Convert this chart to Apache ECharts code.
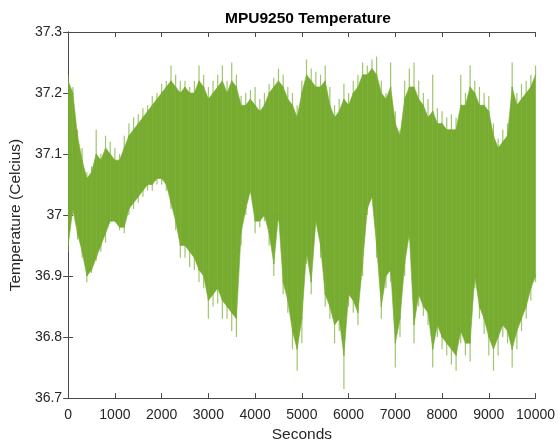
<!DOCTYPE html>
<html lang="en">
<head>
    <meta charset="UTF-8">
    <title>MPU9250 Temperature</title>
    <script src="https://cdn.jsdelivr.net/npm/echarts/dist/echarts.min.js"></script>
    <style>
        html, body { margin: 0; padding: 0; background: #fff; }
        #main { width: 558px; height: 448px; }
    </style>
</head>
<body>
<div id="main"></div>
<script>
    // time axis (seconds), read every 100 s off the picture
    var timeSec = [];
    for (var k = 0; k <= 100; k++) timeSec.push(k * 100);

    // highest spikes of the noisy trace (Celcius)
    var tempHigh = [
        37.23, 37.21, 37.14, 37.11, 37.07, 37.08, 37.14, 37.10, 37.13, 37.12,
        37.11, 37.10, 37.13, 37.15, 37.16, 37.165, 37.175, 37.18, 37.195, 37.20,
        37.215, 37.22, 37.245, 37.23, 37.22, 37.22, 37.21, 37.22, 37.245, 37.23,
        37.21, 37.22, 37.23, 37.245, 37.22, 37.25, 37.23, 37.195, 37.20, 37.205,
        37.21, 37.19, 37.20, 37.215, 37.225, 37.24, 37.23, 37.21, 37.20, 37.18,
        37.22, 37.255, 37.24, 37.235, 37.23, 37.245, 37.21, 37.18, 37.19, 37.215,
        37.20, 37.22, 37.23, 37.25, 37.245, 37.255, 37.26, 37.22, 37.20, 37.25,
        37.17, 37.14, 37.22, 37.24, 37.25, 37.22, 37.20, 37.19, 37.23, 37.175,
        37.17, 37.16, 37.165, 37.16, 37.23, 37.20, 37.245, 37.22, 37.21, 37.20,
        37.195, 37.15, 37.125, 37.14, 37.15, 37.25, 37.20, 37.215, 37.22, 37.23,
        37.245
    ];

    // top of the dense part of the trace
    var coreHigh = [
        37.22, 37.20, 37.13, 37.09, 37.06, 37.07, 37.10, 37.09, 37.11, 37.10,
        37.09, 37.09, 37.11, 37.13, 37.14, 37.15, 37.16, 37.17, 37.18, 37.19,
        37.20, 37.21, 37.22, 37.21, 37.20, 37.21, 37.20, 37.20, 37.22, 37.21,
        37.19, 37.20, 37.21, 37.22, 37.20, 37.22, 37.21, 37.18, 37.18, 37.19,
        37.18, 37.17, 37.18, 37.20, 37.21, 37.22, 37.21, 37.19, 37.18, 37.16,
        37.20, 37.23, 37.22, 37.21, 37.21, 37.22, 37.18, 37.16, 37.17, 37.19,
        37.18, 37.20, 37.21, 37.23, 37.23, 37.24, 37.23, 37.20, 37.19, 37.21,
        37.15, 37.13, 37.19, 37.21, 37.21, 37.19, 37.18, 37.16, 37.17, 37.15,
        37.15, 37.14, 37.14, 37.14, 37.18, 37.18, 37.21, 37.20, 37.18, 37.18,
        37.17, 37.13, 37.11, 37.12, 37.13, 37.21, 37.18, 37.19, 37.20, 37.21,
        37.23
    ];

    // bottom of the dense part of the trace
    var coreLow = [
        36.95, 37.01, 36.97, 36.94, 36.90, 36.91, 36.93, 36.95, 36.97, 36.99,
        36.99, 36.98, 36.98, 37.01, 37.02, 37.03, 37.04, 37.05, 37.05, 37.06,
        37.06, 37.05, 37.02, 36.99, 36.95, 36.95, 36.94, 36.93, 36.91, 36.90,
        36.86, 36.87, 36.88, 36.86, 36.85, 36.84, 36.83, 36.97, 37.01, 37.04,
        36.99, 36.99, 37.00, 36.97, 36.92, 37.00, 36.89, 36.86, 36.81, 36.78,
        36.83, 36.94, 36.89, 36.99, 36.95, 36.87, 36.85, 36.82, 36.83, 36.77,
        36.87, 36.86, 36.84, 36.92, 37.01, 37.03, 36.95, 36.85, 36.90, 36.91,
        36.79, 36.83, 36.92, 36.97, 36.82, 36.87, 36.85, 36.84, 36.78, 36.82,
        36.80, 36.79, 36.78, 36.77, 36.81, 36.79, 36.79, 36.90, 36.85, 36.83,
        36.80, 36.78, 36.80, 36.82, 36.81, 36.78, 36.81, 36.83, 36.85, 36.88,
        36.90
    ];

    // lowest spikes of the noisy trace (Celcius)
    var tempLow = [
        36.94, 37.00, 36.96, 36.93, 36.89, 36.905, 36.925, 36.94, 36.955, 36.99,
        36.99, 36.975, 36.97, 37.00, 37.01, 37.02, 37.03, 37.04, 37.04, 37.05,
        37.05, 37.04, 37.01, 36.975, 36.93, 36.93, 36.915, 36.91, 36.89, 36.88,
        36.83, 36.85, 36.855, 36.83, 36.83, 36.81, 36.80, 36.95, 37.00, 37.04,
        36.97, 36.98, 36.99, 36.95, 36.90, 36.99, 36.87, 36.84, 36.78, 36.745,
        36.79, 36.92, 36.87, 37.02, 36.93, 36.85, 36.83, 36.79, 36.81, 36.715,
        36.85, 36.84, 36.82, 36.90, 37.00, 37.03, 36.93, 36.83, 36.88, 36.89,
        36.75, 36.80, 36.90, 36.96, 36.79, 36.85, 36.835, 36.82, 36.75, 36.80,
        36.78, 36.77, 36.755, 36.745, 36.79, 36.77, 36.76, 36.88, 36.83, 36.805,
        36.77, 36.745, 36.77, 36.80, 36.79, 36.75, 36.78, 36.81, 36.83, 36.86,
        36.89
    ];

    var lineGreen = '#77AC30';
    var axisColor = '#4a4a4a';
    var textColor = '#262626';
    var fontFam = 'Liberation Sans, Arial, Helvetica, sans-serif';

    var traceData = [];
    for (var i = 0; i < timeSec.length; i++) {
        traceData.push([timeSec[i], tempLow[i], coreLow[i], coreHigh[i], tempHigh[i]]);
    }

    // each item: dense strip to the next point + its own spikes above and below
    function renderTrace(params, api) {
        var idx = params.dataIndexInside;
        var t0 = api.value(0);
        var lo = api.coord([t0, api.value(1)]);
        var cLo = api.coord([t0, api.value(2)]);
        var cHi = api.coord([t0, api.value(3)]);
        var hi = api.coord([t0, api.value(4)]);
        var kids = [];
        if (idx < params.dataInsideLength - 1) {
            var t1 = api.value(0, idx + 1);
            var nLo = api.coord([t1, api.value(2, idx + 1)]);
            var nHi = api.coord([t1, api.value(3, idx + 1)]);
            kids.push({
                type: 'polygon',
                shape: { points: [cLo, cHi, nHi, nLo] },
                style: { fill: lineGreen, stroke: lineGreen, lineWidth: 0.6 }
            });
        }
        kids.push({
            type: 'line',
            shape: { x1: hi[0], y1: hi[1], x2: cHi[0], y2: cHi[1] + 2 },
            style: { stroke: lineGreen, lineWidth: 1.2, opacity: 0.7 }
        });
        kids.push({
            type: 'line',
            shape: { x1: lo[0], y1: lo[1], x2: cLo[0], y2: cLo[1] - 2 },
            style: { stroke: lineGreen, lineWidth: 1.2, opacity: 0.7 }
        });
        return { type: 'group', children: kids };
    }

    var xCommon = {
        type: 'value', min: 0, max: 10000, interval: 1000,
        axisLine: { show: true, lineStyle: { color: axisColor, width: 1 } },
        axisTick: { show: true, inside: true, length: 5, lineStyle: { color: axisColor } },
        splitLine: { show: false }
    };
    var yCommon = {
        type: 'value', min: 36.7, max: 37.3, interval: 0.1,
        axisLine: { show: true, lineStyle: { color: axisColor, width: 1 } },
        axisTick: { show: true, inside: true, length: 5, lineStyle: { color: axisColor } },
        splitLine: { show: false }
    };

    var chart = echarts.init(document.getElementById('main'));
    var option = {
        animation: false,
        backgroundColor: '#fff',
        title: {
            text: 'MPU9250 Temperature',
            left: 303, top: 6, textAlign: 'center',
            textStyle: { fontFamily: fontFam, fontSize: 15.5, fontWeight: 'bold', color: '#000' }
        },
        grid: { left: 67.5, right: 20, top: 32, bottom: 46 },
        xAxis: [
            Object.assign({}, xCommon, {
                position: 'bottom',
                name: 'Seconds', nameLocation: 'middle', nameGap: 27,
                nameTextStyle: { fontFamily: fontFam, fontSize: 15.5, color: textColor },
                axisLabel: {
                    margin: 10, fontFamily: fontFam, fontSize: 14, color: textColor,
                    formatter: function (v) { return String(v); }
                }
            }),
            Object.assign({}, xCommon, { position: 'top', axisLabel: { show: false } })
        ],
        yAxis: [
            Object.assign({}, yCommon, {
                position: 'left',
                name: 'Temperature (Celcius)', nameLocation: 'middle', nameGap: 39,
                nameTextStyle: { fontFamily: fontFam, fontSize: 15.5, color: textColor },
                axisLabel: { margin: 6, fontFamily: fontFam, fontSize: 14, color: textColor }
            }),
            Object.assign({}, yCommon, { position: 'right', axisLabel: { show: false } })
        ],
        series: [
            {
                name: 'Temperature', type: 'custom',
                renderItem: renderTrace,
                encode: { x: 0, y: [1, 2, 3, 4] },
                data: traceData,
                clip: true
            }
        ]
    };
    chart.setOption(option);
</script>
</body>
</html>
